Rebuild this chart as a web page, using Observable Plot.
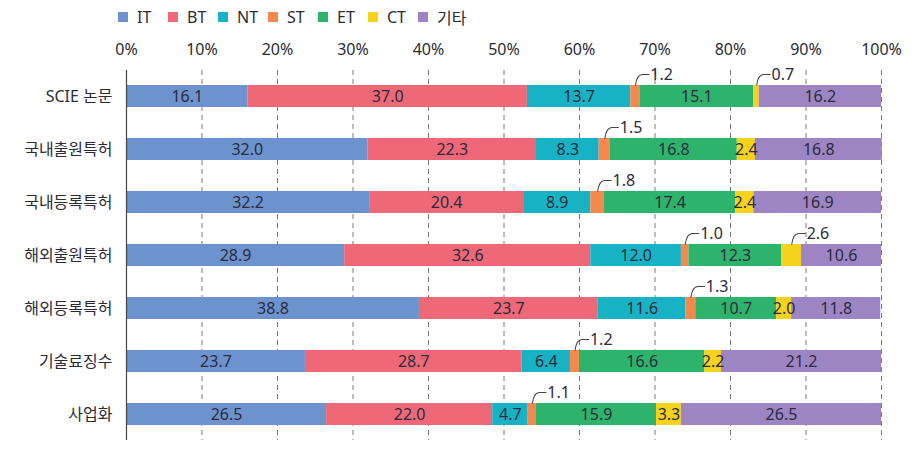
<!DOCTYPE html>
<html>
<head>
<meta charset="utf-8">
<script src="https://cdn.jsdelivr.net/npm/d3@7"></script>
<script src="https://cdn.jsdelivr.net/npm/@observablehq/plot@0.6"></script>
<style>
  html, body { margin: 0; padding: 0; background: #fff; }
  body { width: 920px; height: 466px; overflow: hidden; font-family: "Noto Sans", "Noto Sans CJK KR", sans-serif; color: #2b2b35; }
  #legend { height: 30px; position: relative; }
  .item { position: absolute; top: 6px; display: flex; align-items: center; font-size: 16px; height: 22px; }
  .sw { width: 10px; height: 10px; margin-right: 9px; }
  svg text { font-family: "Noto Sans", "Noto Sans CJK KR", sans-serif; }
</style>
</head>
<body>
<div id="legend"></div>
<div id="chart"></div>
<script>
const categories = ["SCIE 논문", "국내출원특허", "국내등록특허", "해외출원특허", "해외등록특허", "기술료징수", "사업화"];
const fields = ["IT", "BT", "NT", "ST", "ET", "CT", "기타"];
const colors = ["#6d93cf", "#ee6878", "#17b2c4", "#f5894d", "#2db36c", "#f5d21c", "#9d85c4"];
const IT   = [16.1, 32.0, 32.2, 28.9, 38.8, 23.7, 26.5];
const BT   = [37.0, 22.3, 20.4, 32.6, 23.7, 28.7, 22.0];
const NT   = [13.7,  8.3,  8.9, 12.0, 11.6,  6.4,  4.7];
const ST   = [ 1.2,  1.5,  1.8,  1.0,  1.3,  1.2,  1.1];
const ET   = [15.1, 16.8, 17.4, 12.3, 10.7, 16.6, 15.9];
const CT   = [ 0.7,  2.4,  2.4,  2.6,  2.0,  2.2,  3.3];
const ETC  = [16.2, 16.8, 16.9, 10.6, 11.8, 21.2, 26.5];
const tickValues = [0, 10, 20, 30, 40, 50, 60, 70, 80, 90, 100];
// segments whose value label is drawn above the bar with a leader line
const calloutPairs = [["SCIE 논문", "CT"], ["해외출원특허", "CT"]];
const calloutField = "ST";

const series = [IT, BT, NT, ST, ET, CT, ETC];
const long = [];
categories.forEach((c, i) => {
  fields.forEach((f, j) => {
    const callout = f === calloutField || calloutPairs.some(([pc, pf]) => pc === c && pf === f);
    long.push({category: c, field: f, value: series[j][i], callout});
  });
});

// legend
const legend = document.getElementById("legend");
fields.forEach((f, j) => {
  const it = document.createElement("div");
  it.className = "item";
  it.style.left = (118 + j * 50) + "px";
  const sw = document.createElement("span");
  sw.className = "sw";
  sw.style.background = colors[j];
  const tx = document.createElement("span");
  tx.textContent = f;
  it.appendChild(sw); it.appendChild(tx);
  legend.appendChild(it);
});

const leader = {
  draw(context) {
    context.moveTo(0, 0);
    context.quadraticCurveTo(1.5, -11, 7, -11);
    context.lineTo(14, -11);
  }
};

const chart = Plot.plot({
  width: 920,
  height: 436,
  marginLeft: 126,
  marginRight: 39,
  marginTop: 40,
  marginBottom: 26,
  x: {domain: [0, 100]},
  y: {domain: categories, paddingInner: 0.585, paddingOuter: 0.28},
  color: {domain: fields, range: colors},
  style: {fontSize: "16px", color: "#2b2b35"},
  marks: [
    Plot.ruleX(tickValues.filter(t => t > 0), {stroke: "#7a7a7a", strokeDasharray: "5,4", strokeWidth: 1}),
    Plot.barX(long, Plot.stackX({x: "value", y: "category", fill: "field"})),
    Plot.ruleX([0], {stroke: "#444", strokeWidth: 1.2}),
    Plot.text(long, Plot.stackX({
      x: "value", y: "category",
      text: d => d.callout ? "" : d.value.toFixed(1),
      fill: "#2b2b3b", fontSize: 16
    })),
    Plot.dot(long, Plot.stackX({
      x: "value", y: "category",
      symbol: leader, fill: "none", stroke: "#444", strokeWidth: 1.1,
      strokeOpacity: d => d.callout ? 1 : 0, dy: -11
    })),
    Plot.text(long, Plot.stackX({
      x: "value", y: "category",
      text: d => d.callout ? d.value.toFixed(1) : "",
      textAnchor: "start", dx: 15, dy: -22,
      fill: "#2b2b3b", fontSize: 16
    })),
    Plot.axisX({anchor: "top", ticks: tickValues, tickFormat: d => d + "%", tickSize: 0, tickPadding: 16, fontSize: 16, label: null}),
    Plot.axisY({tickSize: 0, tickPadding: 14, fontSize: 16, label: null})
  ]
});
document.getElementById("chart").appendChild(chart);
</script>
</body>
</html>
